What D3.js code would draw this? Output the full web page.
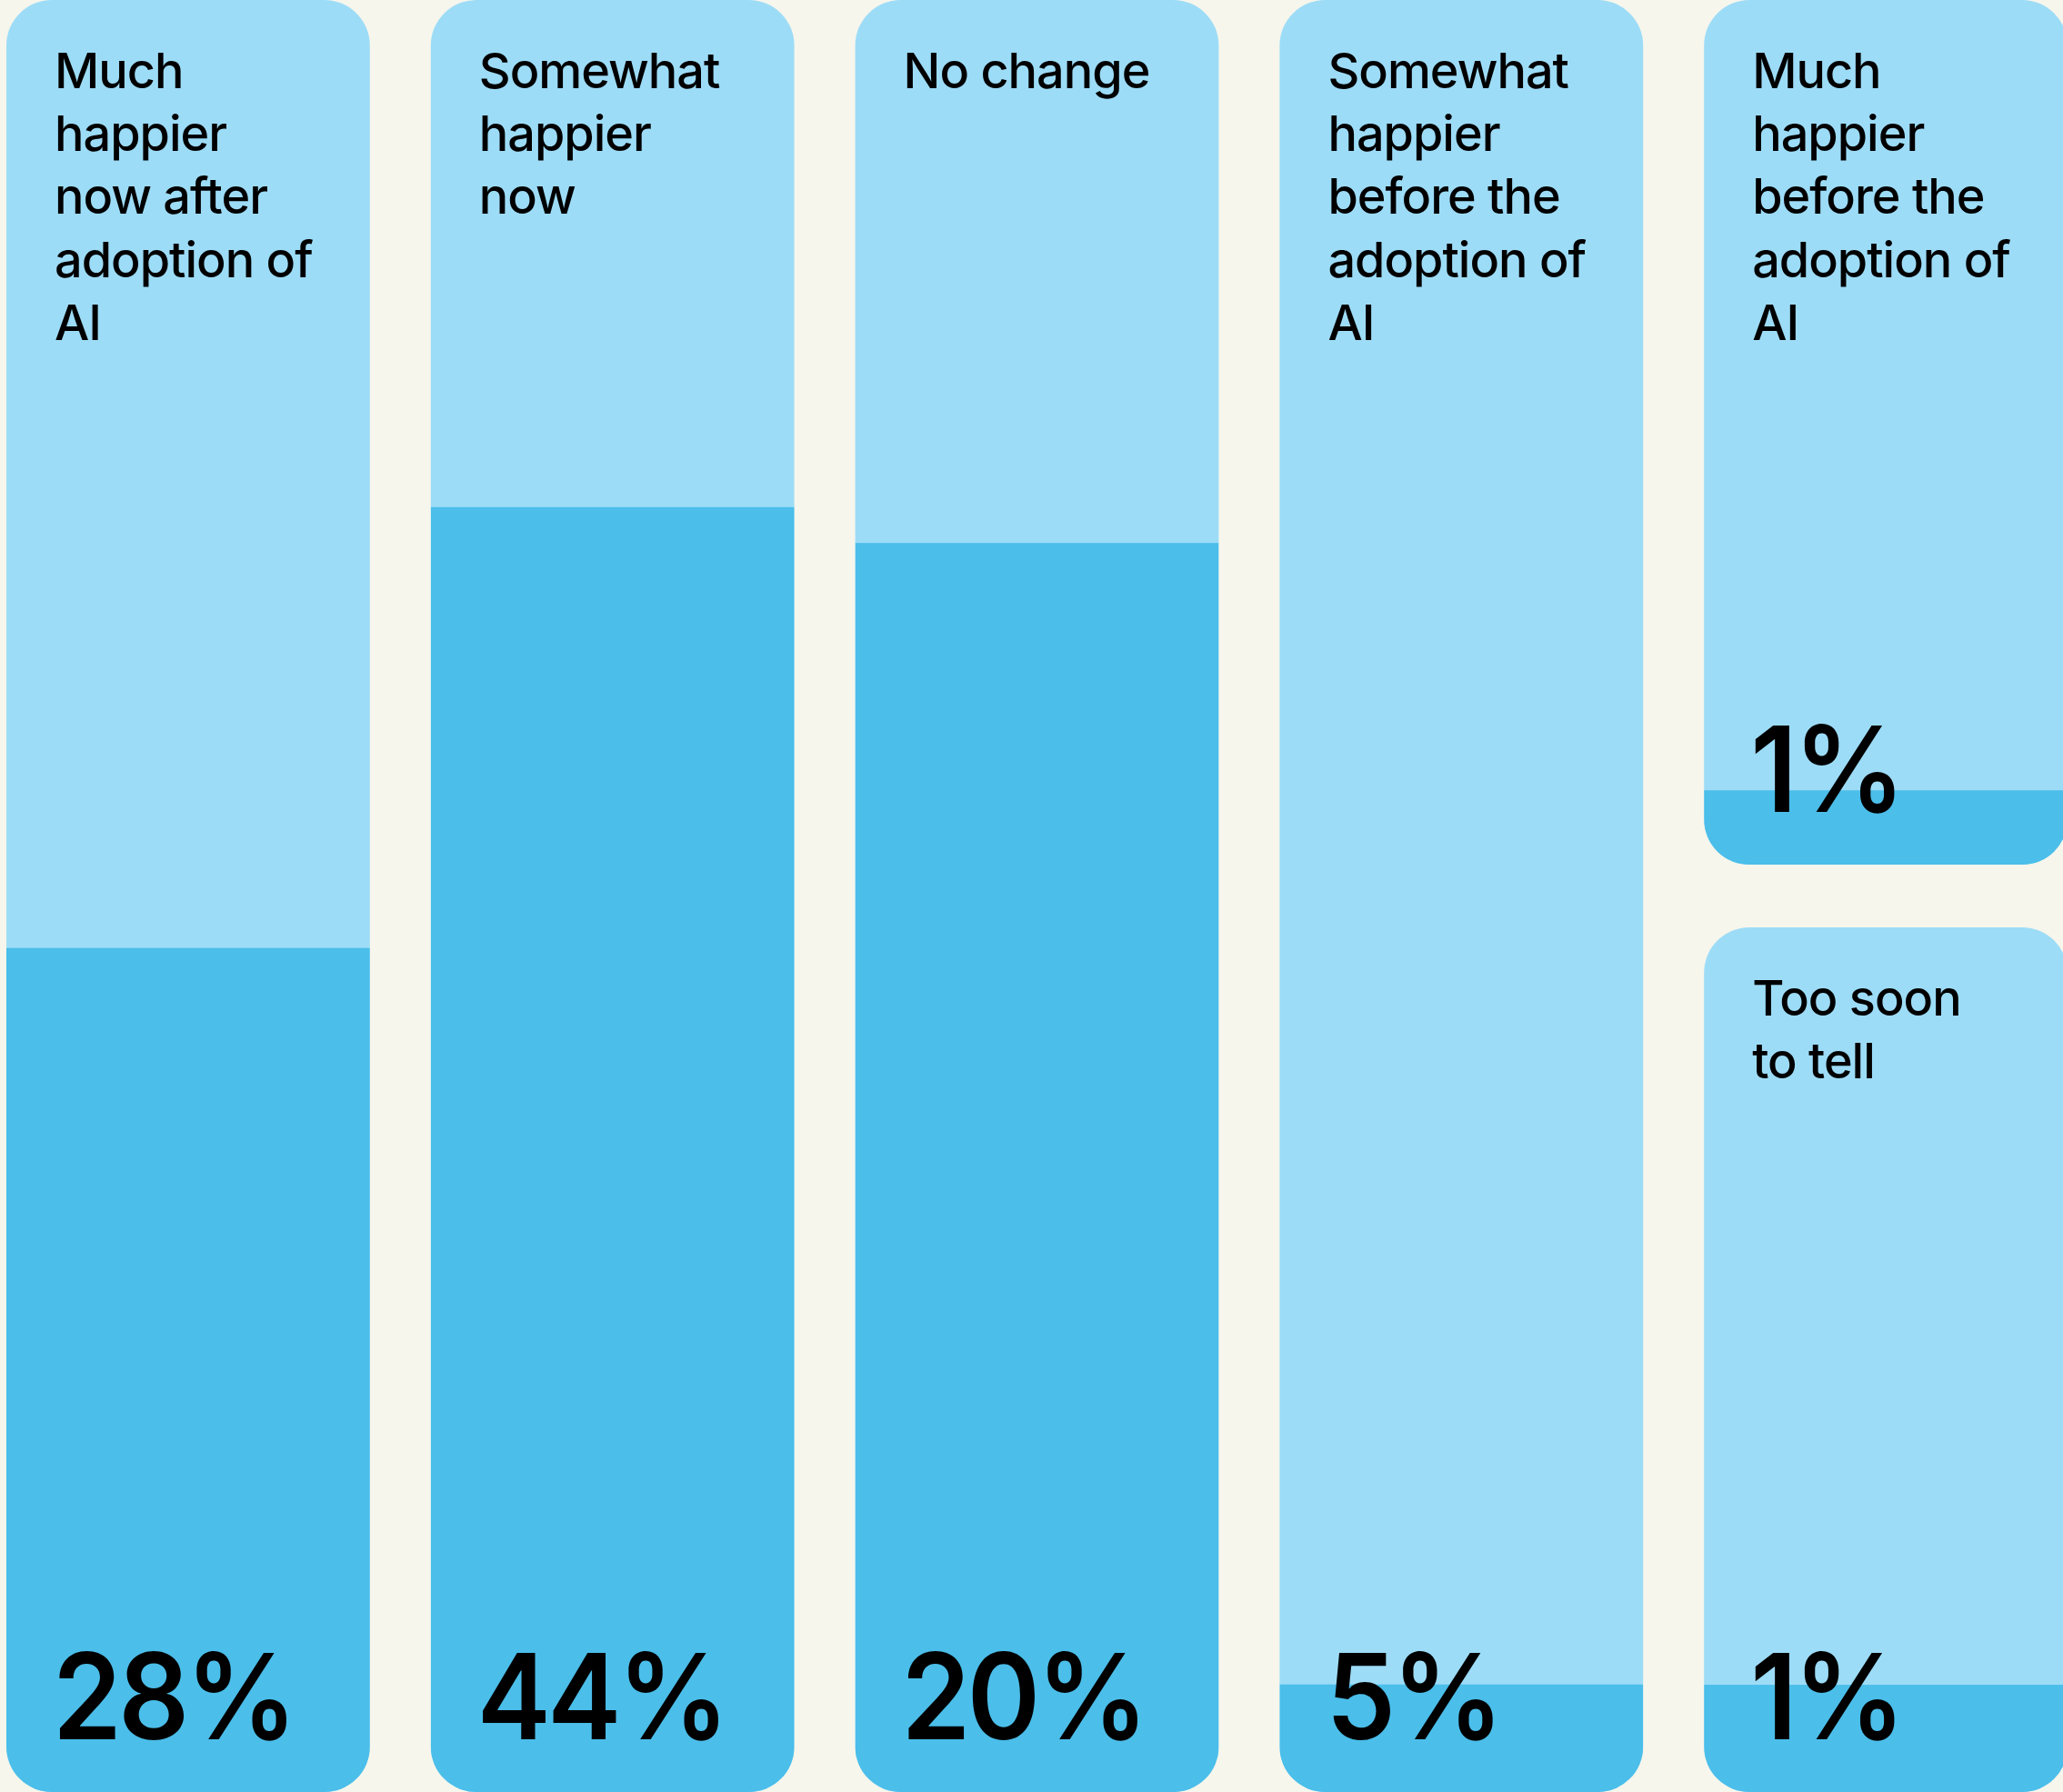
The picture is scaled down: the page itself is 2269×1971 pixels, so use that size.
<!DOCTYPE html>
<html>
<head>
<meta charset="utf-8">
<script src="https://cdn.jsdelivr.net/npm/d3@7"></script>
<style>
  html, body { margin: 0; padding: 0; background: #F6F6EC; }
  svg { display: block; }
</style>
</head>
<body>
<div id="chart"></div>
<script>
// ---- data ----
const categories = [
  "Much\nhappier\nnow after\nadoption of\nAI",
  "Somewhat\nhappier\nnow",
  "No change",
  "Somewhat\nhappier\nbefore the\nadoption of\nAI",
  "Much\nhappier\nbefore the\nadoption of\nAI",
  "Too soon\nto tell"
];
const values = [28, 44, 20, 5, 1, 1];                   // shown percentages
const fillLevels = [47.1, 71.7, 69.7, 6.0, 8.6, 12.4];   // displayed fill, % of its card
const columnOf = [0, 1, 2, 3, 4, 4];
const rowOf = [0, 0, 0, 0, 0, 1];
const columns = [0, 1, 2, 3, 4];
const rowsPerColumn = [1, 1, 1, 1, 2];

// ---- layout ----
const W = 2269, H = 1971;
const colors = { bg: "#F6F6EC", card: "#9DDCF7", fill: "#4BBEEA", text: "#000000" };
const radius = 50, padX = 53;

const x = d3.scaleBand().domain(columns).range([7, 2274]).paddingInner(0.1435).paddingOuter(0);
const rowScales = rowsPerColumn.map(n =>
  d3.scaleBand().domain(d3.range(n)).range([0, H]).paddingInner(n > 1 ? 0.0676 : 0).paddingOuter(0));

const cells = categories.map((c, i) => {
  const ry = rowScales[columnOf[i]];
  const y0 = ry(rowOf[i]), h = ry.bandwidth();
  const fy = d3.scaleLinear().domain([0, 100]).range([y0 + h, y0]);
  return { label: c, value: values[i], fill: fillLevels[i], x: x(columnOf[i]), w: x.bandwidth(), y0, h, fy, i };
});

const svg = d3.select("#chart").append("svg").attr("width", W).attr("height", H);
svg.append("rect").attr("width", W).attr("height", H).attr("fill", colors.bg);

const defs = svg.append("defs");
defs.selectAll("clipPath").data(cells).join("clipPath")
  .attr("id", d => "clip" + d.i)
  .append("rect")
  .attr("x", d => d.x).attr("y", d => d.y0)
  .attr("width", d => d.w).attr("height", d => d.h)
  .attr("rx", radius).attr("ry", radius);

const g = svg.selectAll("g.cell").data(cells).join("g").attr("class", "cell");

g.append("rect")
  .attr("x", d => d.x).attr("y", d => d.y0)
  .attr("width", d => d.w).attr("height", d => d.h)
  .attr("rx", radius).attr("ry", radius)
  .attr("fill", colors.card);

g.append("rect")
  .attr("clip-path", d => `url(#clip${d.i})`)
  .attr("x", d => d.x).attr("y", d => d.fy(d.fill))
  .attr("width", d => d.w).attr("height", d => d.fy(0) - d.fy(d.fill))
  .attr("fill", colors.fill);

const lineH = 69.2;
g.append("text")
  .attr("font-family", "Inter, 'Noto Sans', sans-serif")
  .attr("font-weight", 500)
  .attr("font-size", 54)
  .attr("letter-spacing", -1)
  .attr("fill", colors.text)
  .selectAll("tspan").data(d => d.label.split("\n").map(t => ({ t, d })))
  .join("tspan")
  .attr("x", o => o.d.x + padX)
  .attr("y", (o, j) => o.d.y0 + 97 + j * lineH)
  .text(o => o.t);

g.append("text")
  .attr("transform", d => `translate(${d.x + padX - 2},${d.y0 + d.h - 58}) scale(0.93,1)`)
  .attr("font-family", "Inter, 'Noto Sans', sans-serif")
  .attr("font-weight", 600)
  .attr("font-size", 131)
  .attr("letter-spacing", -4)
  .attr("fill", colors.text)
  .text(d => d.value + "%");
</script>
</body>
</html>
